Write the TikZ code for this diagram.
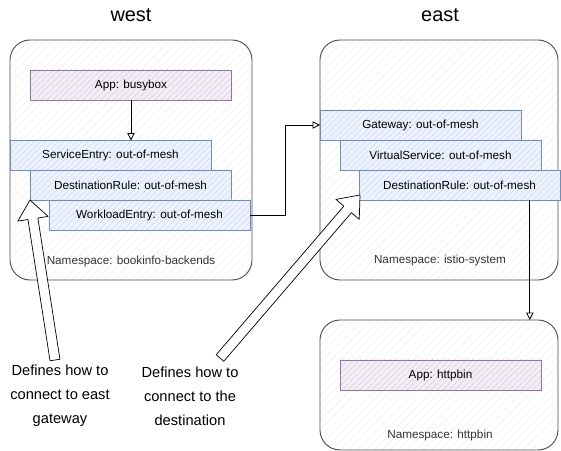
\documentclass[tikz,border=0pt]{standalone}
\usepackage{fontspec}
\setmainfont{Liberation Sans}
\usetikzlibrary{calc,arrows.meta,patterns.meta}

\definecolor{appline}{HTML}{9673A6}
\definecolor{appfill}{HTML}{E1D5E7}
\definecolor{crdline}{HTML}{6C8EBF}
\definecolor{crdfill}{HTML}{DAE8FC}
\definecolor{nstext}{HTML}{333333}

\tikzset{
  nsbox/.style={draw=black!70, line width=0.8pt, rounded corners=6mm, inner sep=0pt, outer sep=0pt,
    pattern={Lines[angle=45,distance=5pt,line width=0.3pt]}, pattern color=black!8},
  appbox/.style={draw=appline, line width=0.8pt, inner sep=0pt, outer sep=0pt,
    minimum width=60.3mm, minimum height=9mm, font=\fontsize{10}{12}\selectfont,
    preaction={fill=appfill!40}, pattern={Lines[angle=45,distance=4pt,line width=0.4pt]},
    pattern color=appline!45},
  crdbox/.style={appbox, draw=crdline, preaction={fill=crdfill!50}, pattern color=crdline!35},
  nslabel/.style={text=nstext, font=\fontsize{10}{12}\selectfont},
  title/.style={font=\fontsize{17}{20}\selectfont},
  note/.style={align=center, font=\fontsize{12.5}{20.5}\selectfont},
  flow/.style={line width=0.7pt, -{Triangle[open,length=2.2mm,width=2.2mm]}},
  fatline/.style={line width=0.6pt, fill=white, line join=round}
}

% hollow block arrow from #1 (tail) to #2 (tip)
\newcommand{\fatarrow}[2]{%
  \coordinate (fa-c) at ($(#2)!5.7mm!(#1)$);
  \draw[fatline] ($(#1)!1.5mm!-90:(#2)$) -- ($(fa-c)!1.5mm!90:(#1)$)
    -- ($(fa-c)!4.6mm!90:(#1)$) -- (#2) -- ($(fa-c)!4.6mm!-90:(#1)$)
    -- ($(fa-c)!1.5mm!-90:(#1)$) -- ($(#1)!1.5mm!90:(#2)$) -- cycle;
}

\begin{document}
\begin{tikzpicture}[x=0.3mm,y=-0.3mm]
  \useasboundingbox (0,0) rectangle (561,451);

  % titles
  \node[title] (westtitle) at (131,15) {west};
  \node[title] (easttitle) at (440,15) {east};

  % namespaces
  \node[nsbox, minimum width=72.6mm, minimum height=72mm] (nswest) at (131,160) {};
  \node[nsbox, minimum width=71.4mm, minimum height=72mm] (nseast) at (439,160) {};
  \node[nsbox, minimum width=71.4mm, minimum height=39mm] (nshttp) at (439,385) {};
  \node[nslabel] (labwest) at (131,261) {Namespace: bookinfo-backends};
  \node[nslabel] (labeast) at (440,260) {Namespace: istio-system};
  \node[nslabel] (labhttp) at (440,435) {Namespace: httpbin};

  % west
  \node[appbox] (busybox) at (131,85) {App: busybox};
  \node[crdbox] (se) at (110.5,155.5) {ServiceEntry: out-of-mesh};
  \node[crdbox] (drwest) at (130.5,185) {DestinationRule: out-of-mesh};
  \node[crdbox] (we) at (149.5,215) {WorkloadEntry: out-of-mesh};

  % east
  \node[crdbox] (gw) at (420.5,125) {Gateway: out-of-mesh};
  \node[crdbox] (vs) at (440.5,155) {VirtualService: out-of-mesh};
  \node[crdbox] (dreast) at (459.5,185) {DestinationRule: out-of-mesh};
  \node[appbox] (httpbin) at (440.5,375) {App: httpbin};

  % connectors
  \draw[flow] (busybox.south) -- (busybox.south |- se.north);
  \draw[flow] (we.east) -- ++(35,0) |- (gw.west);
  \coordinate (drout) at ($(dreast.south west)!0.85!(dreast.south east)$);
  \draw[flow] (drout) -- (drout |- nshttp.north);

  % notes
  \node[note] (note1) at (60,396) {Defines how to\\connect to east\\gateway};
  \node[note] (note2) at (190,396) {Defines how to\\connect to the\\destination};
  \coordinate (tail1) at (55,360);
  \coordinate (tail2) at (220,358);
  \coordinate (tip2) at ($(dreast.south west)+(1,-5)$);
  \fatarrow{tail1}{drwest.south west}
  \fatarrow{tail2}{tip2}
\end{tikzpicture}
\end{document}
